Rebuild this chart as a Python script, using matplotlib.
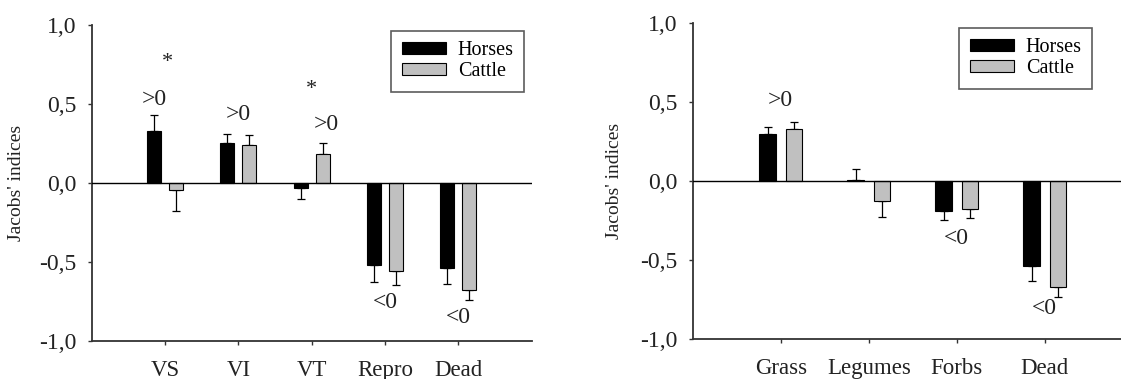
import numpy as np
from matplotlib import pyplot as plt

plt.rcParams['font.family'] = ['Liberation Serif', 'DejaVu Serif']

# panel a: plant parts
partes = ['VS', 'VI', 'VT', 'Repro', 'Dead']
caballos_a = [0.327, 0.253, -0.030, -0.522, -0.539]
caballos_err_a = [0.103, 0.059, 0.070, 0.106, 0.102]
vacas_a = [-0.047, 0.242, 0.183, -0.558, -0.677]
vacas_err_a = [0.131, 0.062, 0.070, 0.087, 0.062]
# (x, y, text)
notas_a = [(0.04, 0.76, '*'), (-0.15, 0.53, '>0'), (1.0, 0.43, '>0'),
           (2.0, 0.59, '*'), (2.2, 0.37, '>0'), (3.0, -0.755, '<0'),
           (4.0, -0.85, '<0')]

# panel b: forage groups
grupos = ['Grass', 'Legumes', 'Forbs', 'Dead']
caballos_b = [0.300, 0.004, -0.192, -0.538]
caballos_err_b = [0.042, 0.069, 0.055, 0.098]
vacas_b = [0.326, -0.128, -0.180, -0.674]
vacas_err_b = [0.046, 0.098, 0.056, 0.058]
notas_b = [(0.0, 0.51, '>0'), (2.0, -0.366, '<0'), (3.0, -0.81, '<0')]

GRIS = '#c0c0c0'
EJE = '#333333'
TEXTO = '#222222'


def barras(ax, etiquetas, horses, h_err, cattle, c_err, notas, xmax, xlab):
    x = np.arange(len(etiquetas))
    ancho = 0.19
    for valores, errores, color, nombre, dx in [(horses, h_err, 'black', 'Horses', -0.15),
                                                (cattle, c_err, GRIS, 'Cattle', 0.15)]:
        valores = np.array(valores)
        errores = np.array(errores)
        abajo = np.where(valores < 0, errores, 0)
        arriba = np.where(valores >= 0, errores, 0)
        ax.bar(x + dx, valores, ancho, color=color, edgecolor='black',
               linewidth=0.8, label=nombre, zorder=2)
        ax.errorbar(x + dx, valores, yerr=[abajo, arriba], fmt='none',
                    ecolor='black', elinewidth=0.9, capsize=3, capthick=0.9, zorder=1)
    ax.axhline(0, color='black', linewidth=1.0, zorder=3)
    for xt, yt, txt in notas:
        if txt == '*':
            ax.text(xt, yt, txt, ha='center', va='center', fontsize=16, color=TEXTO)
        else:
            ax.text(xt, yt, txt, ha='center', va='center', fontsize=17, color=TEXTO)
    ax.set_xlim(-1, xmax)
    ax.set_ylim(-1.0, 1.0)
    ax.set_xticks(x)
    ax.set_xticklabels(etiquetas, fontsize=16.5)
    ax.set_yticks([-1.0, -0.5, 0.0, 0.5, 1.0])
    ax.set_yticklabels(['-1,0', '-0,5', '0,0', '0,5', '1,0'], fontsize=17)
    ax.set_ylabel("Jacobs' indices", fontsize=14, color=TEXTO)
    ax.yaxis.set_label_coords(xlab, 0.5)
    ax.spines['top'].set_visible(False)
    ax.spines['right'].set_visible(False)
    for s in ['left', 'bottom']:
        ax.spines[s].set_color(EJE)
        ax.spines[s].set_linewidth(1.3)
    ax.tick_params(axis='y', direction='out', length=3, width=1.0, colors=EJE, labelcolor=TEXTO, pad=8)
    ax.tick_params(axis='x', direction='out', length=3, width=1.0, colors=EJE, labelcolor=TEXTO, pad=10.5)
    leg = ax.legend(loc='upper right', fontsize=14.5, frameon=True, fancybox=False,
                    edgecolor='#333333', handlelength=2.2, handleheight=0.55,
                    borderpad=0.5, labelspacing=0.12, handletextpad=0.6, borderaxespad=0)
    leg.get_frame().set_linewidth(1.2)
    return leg


fig = plt.figure(figsize=(11.21, 3.79), dpi=100)
ax1 = fig.add_axes([0.0818, 0.1003, 0.3925, 0.834])
ax2 = fig.add_axes([0.618, 0.1055, 0.3925, 0.834])
leg1 = barras(ax1, partes, caballos_a, caballos_err_a, vacas_a, vacas_err_a, notas_a, 5, -0.152)
leg1.set_bbox_to_anchor((524 / 1121, 1 - 31 / 379), transform=fig.transFigure)
leg2 = barras(ax2, grupos, caballos_b, caballos_err_b, vacas_b, vacas_err_b, notas_b, 4, -0.159)
leg2.set_bbox_to_anchor((1092 / 1121, 1 - 28 / 379), transform=fig.transFigure)
fig.savefig('out.png', dpi=100)
